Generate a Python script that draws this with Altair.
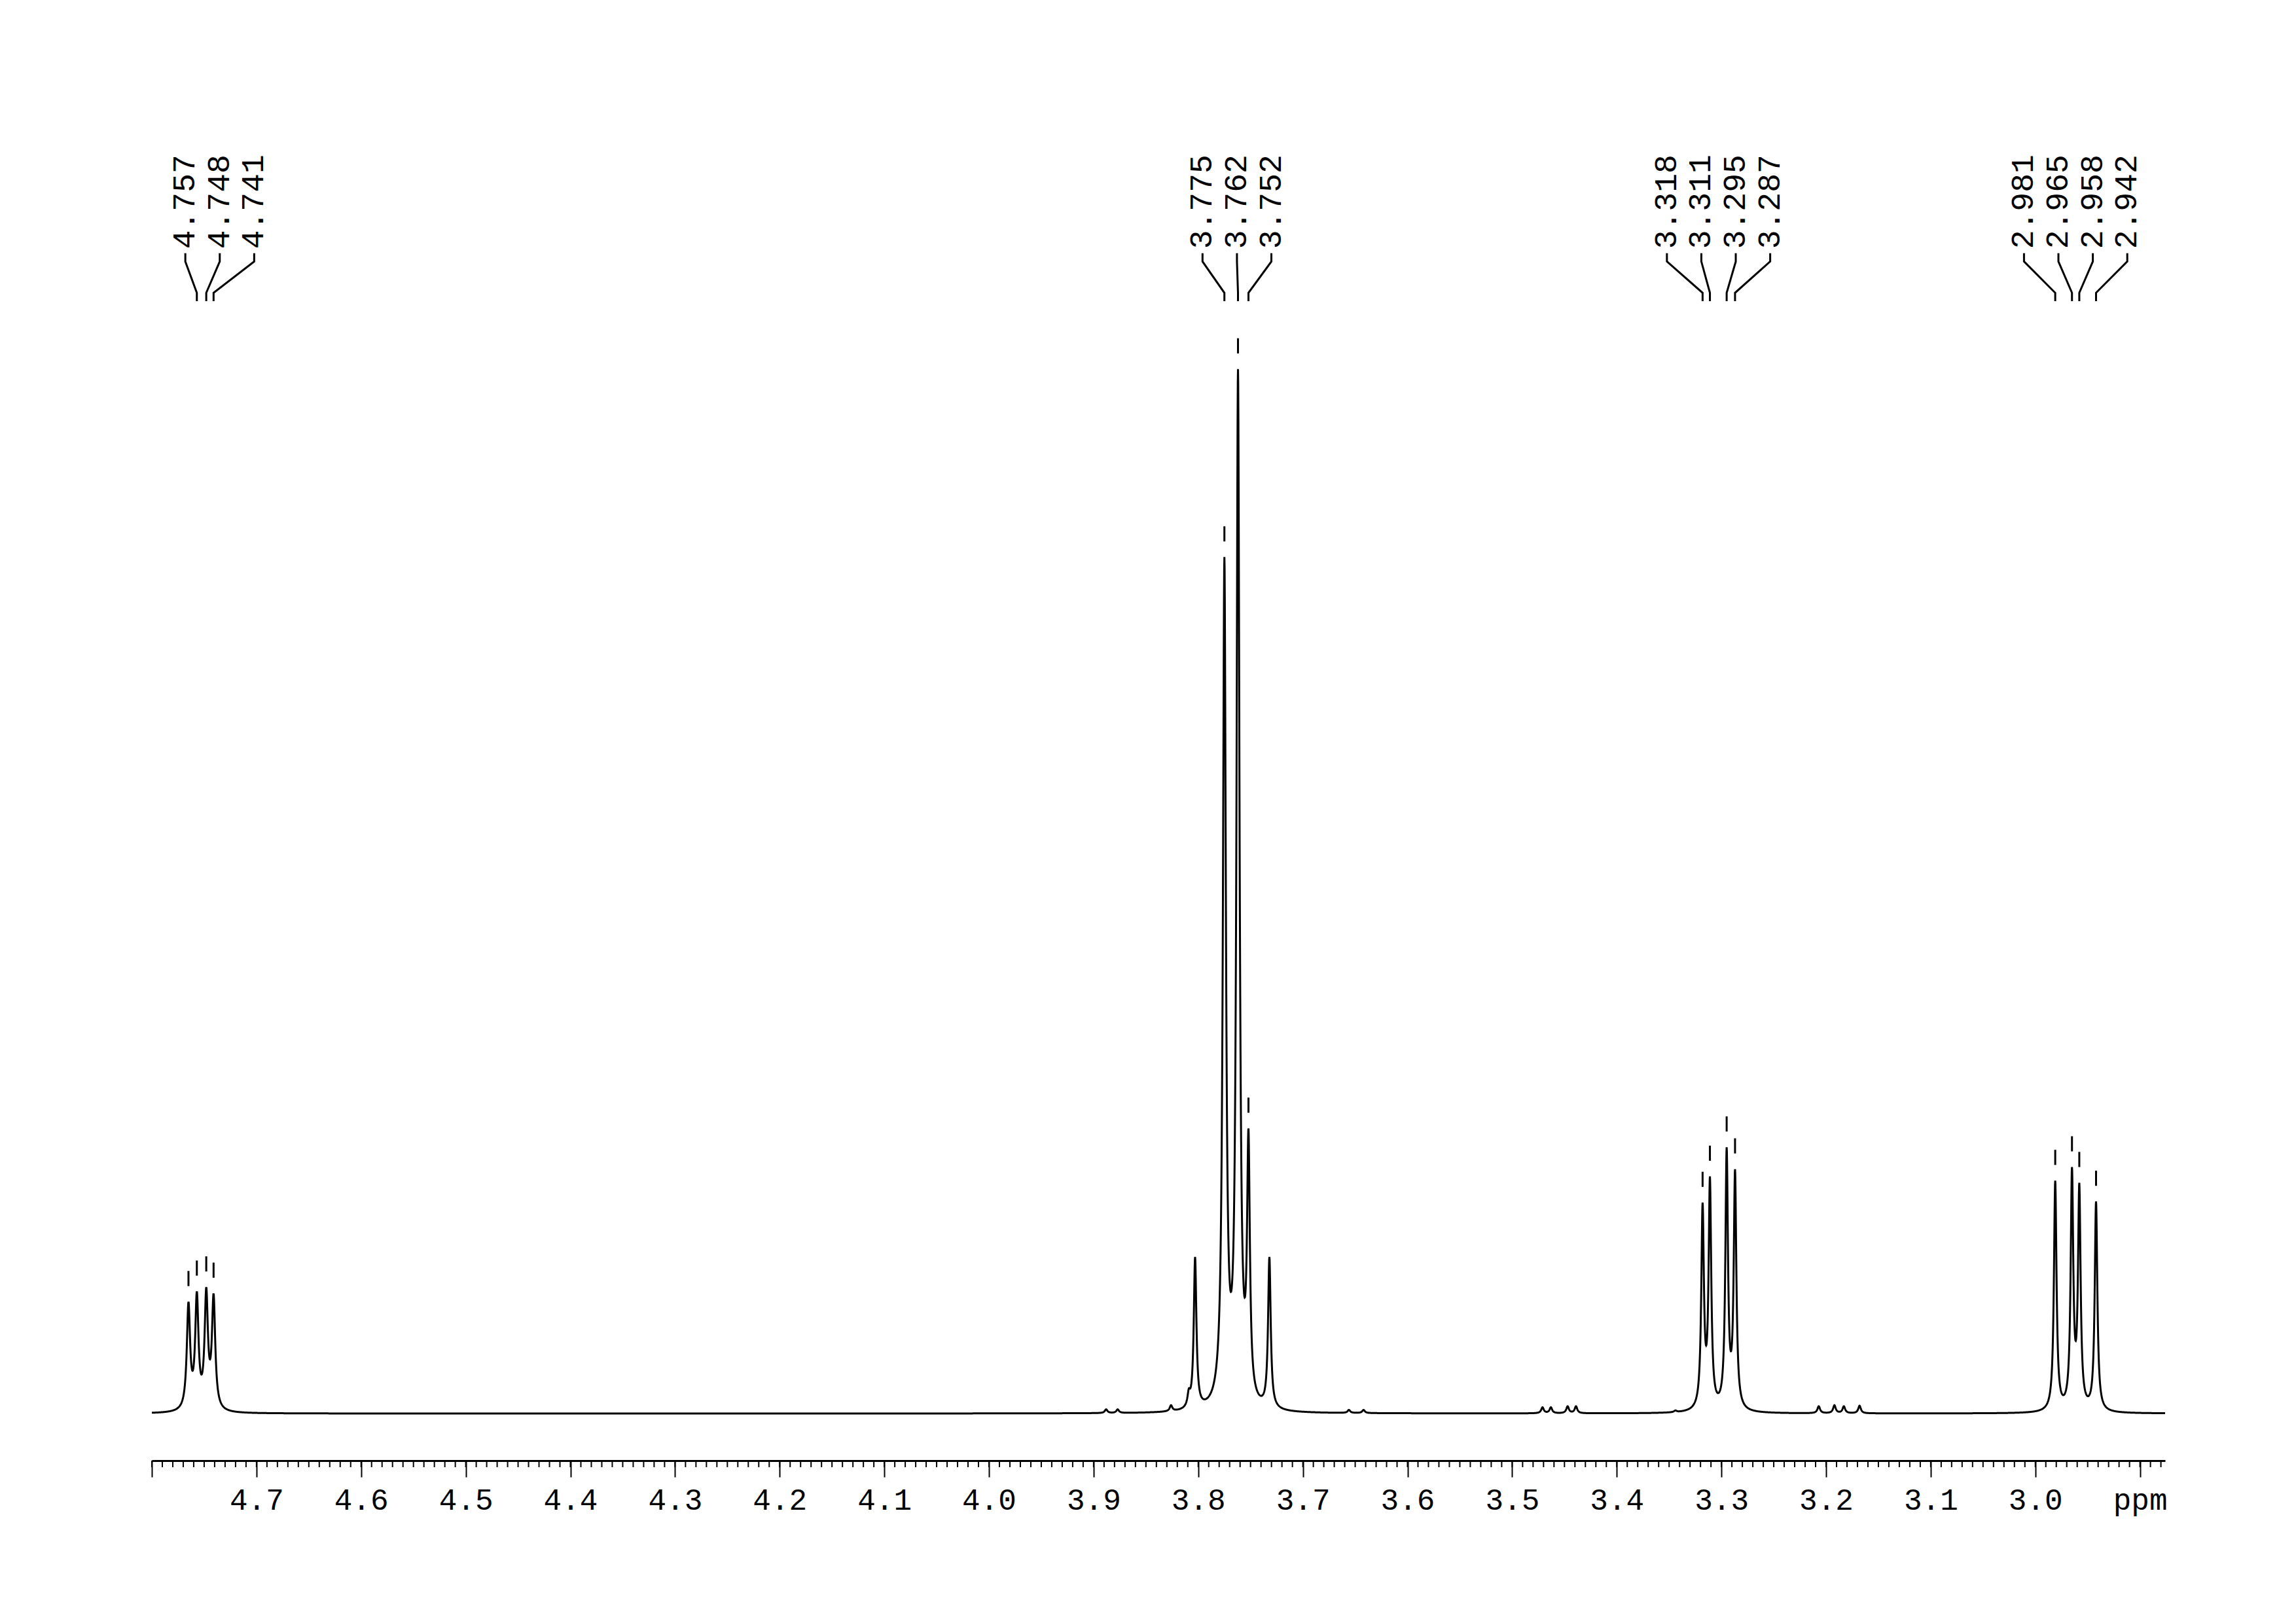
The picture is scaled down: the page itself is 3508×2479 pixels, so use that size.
import numpy as np
import pandas as pd
import altair as alt

alt.data_transformers.disable_max_rows()

# ---------------- data ----------------
# main resonances: chemical shift (ppm), curve height at the line (tallest = 100), half width (ppm)
peak_ppm = [4.765, 4.757, 4.748, 4.741,
            3.826, 3.809, 3.803, 3.775, 3.762, 3.752, 3.732,
            3.318, 3.311, 3.295, 3.287,
            2.981, 2.965, 2.958, 2.942]
peak_height = [10.7, 11.7, 12.1, 11.5,
               0.8, 2.4, 15.0, 82.0, 100.0, 27.3, 15.0,
               20.2, 22.7, 25.5, 23.4,
               22.3, 23.6, 22.1, 20.3]
peak_hwhm = [0.0019, 0.0019, 0.0019, 0.0019,
             0.0015, 0.0015, 0.0015, 0.0017, 0.0017, 0.0016, 0.0015,
             0.0015, 0.0015, 0.0015, 0.0015,
             0.0015, 0.0015, 0.0015, 0.0015]

# small impurity lines on the baseline
minor_ppm = [3.888, 3.877, 3.656, 3.642, 3.471, 3.463, 3.447, 3.439,
             3.344, 3.207, 3.192, 3.183, 3.168]
minor_height = [0.4, 0.4, 0.35, 0.35, 0.6, 0.6, 0.7, 0.7,
                0.3, 0.7, 0.8, 0.7, 0.75]

# peak-pick labels, grouped as printed above the spectrum
label_groups = [["4.757", "4.748", "4.741"],
                ["3.775", "3.762", "3.752"],
                ["3.318", "3.311", "3.295", "3.287"],
                ["2.981", "2.965", "2.958", "2.942"]]
# peaks carrying a pick marker
marked_ppm = [4.765, 4.757, 4.748, 4.741, 3.775, 3.762, 3.752,
              3.318, 3.311, 3.295, 3.287, 2.981, 2.965, 2.958, 2.942]

# axis
tick_values = [4.8, 4.7, 4.6, 4.5, 4.4, 4.3, 4.2, 4.1, 4.0, 3.9, 3.8,
               3.7, 3.6, 3.5, 3.4, 3.3, 3.2, 3.1, 3.0, 2.9]
x_min, x_max = 2.876, 4.80

# ---------------- build spectrum from the peak list ----------------
pos = np.array(peak_ppm + minor_ppm)
tgt = np.array(peak_height + minor_height)
wid = np.array(peak_hwhm + [0.0015] * len(minor_ppm))


def lor(x, c, g):
    return g * g / (g * g + (x - c) ** 2)


A = lor(pos[:, None], pos[None, :], wid[None, :])
amp = np.linalg.solve(A, tgt)

xs = np.arange(x_min, x_max + 1e-9, 0.0002)
ys = (amp[None, :] * lor(xs[:, None], pos[None, :], wid[None, :])).sum(axis=1)
spec = pd.DataFrame({"ppm": np.round(xs, 5), "I": np.round(ys, 3)})

height_at = dict(zip(peak_ppm, peak_height))

# ---------------- layout ----------------
W, H = 3076, 2031
y_dom = [-4.51, 122.8]
label_step = 0.0329
label_max = x_max - 0.032
txt_y, c1, c2, c3, c4 = 111.5, 111.1, 110.3, 107.3, 106.5
mk_gap, mk_len = 1.5, 1.45
FONT = "Courier New, Liberation Mono, monospace"

lab_rows, con_rows = [], []
k = 0
for grp in label_groups:
    vals = [float(v) for v in grp]
    n = len(vals)
    center = float(np.mean(vals))
    lx = [center + ((n - 1) / 2 - i) * label_step for i in range(n)]
    shift = max(0.0, lx[0] - label_max)
    lx = [v - shift for v in lx]
    for v, t, p in zip(lx, grp, vals):
        lab_rows.append({"ppm": v, "y": txt_y, "t": t})
        for o, (xx, yy) in enumerate([(v, c1), (v, c2), (p, c3), (p, c4)]):
            con_rows.append({"id": k, "o": o, "ppm": xx, "y": yy})
        k += 1
labels = pd.DataFrame(lab_rows)
conns = pd.DataFrame(con_rows)

marks = pd.DataFrame({"ppm": marked_ppm,
                      "y1": [height_at[p] + mk_gap for p in marked_ppm],
                      "y2": [height_at[p] + mk_gap + mk_len for p in marked_ppm]})

minor_ticks = pd.DataFrame({"ppm": np.round(np.arange(2.88, 4.8001, 0.01), 2)})

xs_scale = alt.Scale(domain=[x_min, x_max], reverse=True, nice=False, zero=False)
ys_scale = alt.Scale(domain=y_dom, nice=False, zero=False)

x_axis = alt.Axis(values=tick_values, title=None, grid=False,
                  labelExpr="datum.value < 2.95 ? 'ppm' : (datum.value > 4.75 ? '' : format(datum.value, '.1f'))",
                  labelFont=FONT, labelFontSize=46, labelColor="black",
                  labelPadding=13, labelOverlap=False, labelFlush=False, labelBound=False,
                  domainColor="black", domainWidth=3, tickColor="black",
                  tickWidth=2, tickSize=25)

line = alt.Chart(spec).mark_line(color="black", strokeWidth=3).encode(
    x=alt.X("ppm:Q", scale=xs_scale, axis=x_axis),
    y=alt.Y("I:Q", scale=ys_scale, axis=None),
)

minor = alt.Chart(minor_ticks).mark_rule(color="black", strokeWidth=2).encode(
    x=alt.X("ppm:Q", scale=xs_scale),
    y=alt.value(H), y2=alt.value(H + 10),
)

pick = alt.Chart(marks).mark_rule(color="black", strokeWidth=3).encode(
    x=alt.X("ppm:Q", scale=xs_scale),
    y=alt.Y("y1:Q", scale=ys_scale), y2="y2:Q",
)

conn = alt.Chart(conns).mark_line(color="black", strokeWidth=3).encode(
    x=alt.X("ppm:Q", scale=xs_scale),
    y=alt.Y("y:Q", scale=ys_scale),
    detail="id:N", order="o:Q",
)

text = alt.Chart(labels).mark_text(angle=270, align="left", baseline="middle",
                                   font=FONT, fontSize=48, color="black").encode(
    x=alt.X("ppm:Q", scale=xs_scale),
    y=alt.Y("y:Q", scale=ys_scale),
    text="t:N",
)

chart = alt.layer(line, minor, pick, conn, text).properties(
    width=W, height=H, background="white",
    padding={"left": 218, "top": 192, "right": 20, "bottom": 20},
).configure_view(stroke="transparent", strokeWidth=0)

chart.save("out.html", embed_options={"renderer": "svg", "actions": False})
